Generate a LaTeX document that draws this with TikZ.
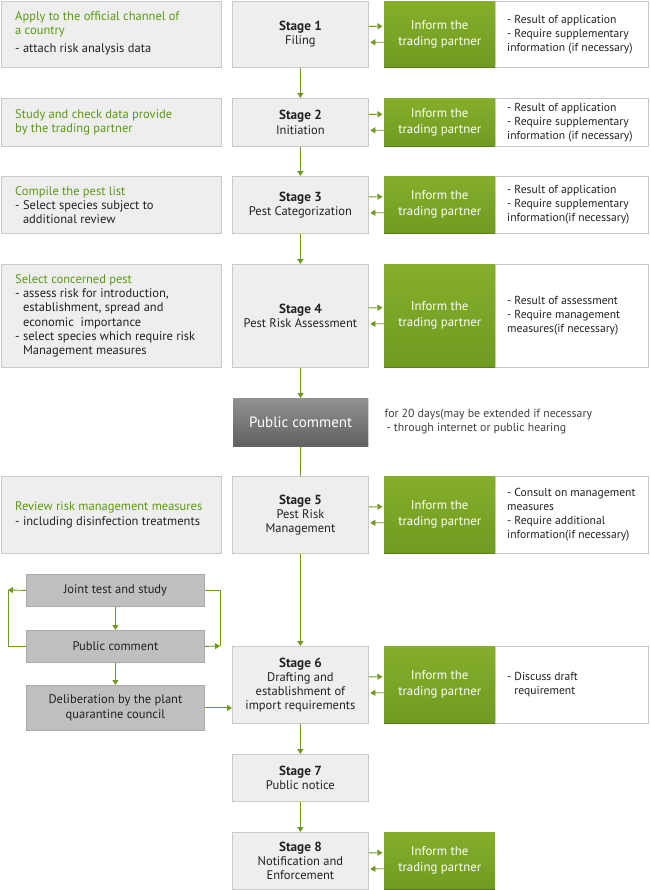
\documentclass[tikz,border=0pt]{standalone}
\usepackage{fontspec}
\setmainfont{PT Sans}
\usetikzlibrary{arrows.meta,shadows}

\definecolor{leaf}{HTML}{6F9A1F}
\definecolor{leaftext}{HTML}{5A9A12}
\definecolor{leaftop}{HTML}{86AE2B}
\definecolor{leafbot}{HTML}{6F9B20}
\definecolor{leafdark}{HTML}{567D16}
\definecolor{boxgray}{HTML}{EEEEEE}
\definecolor{edgegray}{HTML}{C9C9C9}
\definecolor{loopgray}{HTML}{BFBFBF}
\definecolor{loopedge}{HTML}{AAAAAA}
\definecolor{inktext}{HTML}{222222}

\newcommand{\greentxt}[1]{\textcolor{leaftext}{#1}}
\newcommand{\stagehead}[1]{{\fontsize{13.2}{14}\selectfont\textbf{#1}}}

\tikzset{
  every node/.style={font=\fontsize{12.5}{14.2}\selectfont, text=inktext},
  panel/.style={draw=edgegray, fill=boxgray, anchor=north west, inner sep=0pt, line width=0.8pt},
  stage/.style={panel, minimum width=136pt, align=center},
  result/.style={panel, fill=white, minimum width=153pt},
  resulttxt/.style={note, font=\fontsize{11.6}{14}\selectfont},
  inform/.style={anchor=north west, inner sep=0pt, minimum width=111pt,
    top color=leaftop, bottom color=leafbot, align=center,
    font=\fontsize{12.8}{16}\selectfont, text=white},
  note/.style={anchor=west, align=left, inner sep=0pt},
  loopbox/.style={anchor=north west, draw=loopedge, fill=loopgray, line width=0.8pt,
    minimum width=178pt, align=center, inner sep=0pt},
  flow/.style={draw=leaf, line width=0.9pt, -{Triangle[length=5pt,width=6pt]}},
  link/.style={draw=leaf, line width=0.9pt}
}

\begin{document}
\begin{tikzpicture}[x=1pt,y=-1pt]
\useasboundingbox (0,0) rectangle (650,890);

% row 1
\node[panel, minimum width=220pt, minimum height=66pt] (task1) at (1,1) {};
\node[note] (task1txt) at ([xshift=14pt,yshift=1pt]task1.west)
  {\greentxt{Apply to the official channel of}\\\greentxt{a country}\\[4pt]- attach risk analysis data};
\node[stage, minimum height=66pt] (s1) at (232,1) {\stagehead{Stage 1}\\Filing};
\node[inform, minimum height=66pt] (g1) at (384,1) {Inform the\\trading partner};
\node[result, minimum height=66pt] (w1) at (495,1) {};
\node[resulttxt] (w1txt) at ([xshift=12pt]w1.west)
  {- Result of application\\- Require supplementary\\information (if necessary)};

% row 2
\node[panel, minimum width=220pt, minimum height=48pt] (task2) at (1,98) {};
\node[note] (task2txt) at ([xshift=14pt]task2.west)
  {\greentxt{Study and check data provide}\\\greentxt{by the trading partner}};
\node[stage, minimum height=48pt] (s2) at (232,98) {\stagehead{Stage 2}\\Initiation};
\node[inform, minimum height=48pt] (g2) at (384,98) {Inform the\\trading partner};
\node[result, minimum height=48pt] (w2) at (495,98) {};
\node[resulttxt] (w2txt) at ([xshift=12pt]w2.west)
  {- Result of application\\- Require supplementary\\information (if necessary)};

% row 3
\node[panel, minimum width=220pt, minimum height=57pt] (task3) at (1,176) {};
\node[note] (task3txt) at ([xshift=14pt]task3.west)
  {\greentxt{Compile the pest list}\\- Select species subject to\\\phantom{- }additional review};
\node[stage, minimum height=57pt] (s3) at (232,176) {\stagehead{Stage 3}\\Pest Categorization};
\node[inform, minimum height=57pt] (g3) at (384,176) {Inform the\\trading partner};
\node[result, minimum height=57pt] (w3) at (495,176) {};
\node[resulttxt] (w3txt) at ([xshift=12pt]w3.west)
  {- Result of application\\- Require supplementary\\information(if necessary)};

% row 4
\node[panel, minimum width=220pt, minimum height=103pt] (task4) at (1,264) {};
\node[note] (task4txt) at ([xshift=14pt]task4.west)
  {\greentxt{Select concerned pest}\\- assess risk for introduction,\\\phantom{- }establishment, spread and\\\phantom{- }economic\ \ importance\\- select species which require risk\\\phantom{- }Management measures};
\node[stage, minimum height=103pt] (s4) at (232,264) {\stagehead{Stage 4}\\Pest Risk Assessment};
\node[inform, minimum height=103pt] (g4) at (384,264) {Inform the\\trading partner};
\node[result, minimum height=103pt] (w4) at (495,264) {};
\node[resulttxt] (w4txt) at ([xshift=12pt]w4.west)
  {- Result of assessment\\- Require management\\measures(if necessary)};

% public comment
\node[anchor=north west, inner sep=0pt, minimum width=135pt, minimum height=48pt,
  top color=black!43, bottom color=black!62, text=white,
  font=\fontsize{15}{16}\selectfont,
  drop shadow={opacity=0.25, shadow xshift=1pt, shadow yshift=-1pt}] (pc) at (233,398) {Public comment};
\node[note, text=black!75, font=\fontsize{11.8}{14}\selectfont] (pctxt) at ([xshift=16pt,yshift=1pt]pc.east)
  {for 20 days(may be extended if necessary\\\hspace*{2pt}- through internet or public hearing};

% row 5
\node[panel, minimum width=220pt, minimum height=77pt] (task5) at (1,476) {};
\node[note] (task5txt) at ([xshift=14pt]task5.west)
  {\greentxt{Review risk management measures}\\- including disinfection treatments};
\node[stage, minimum height=77pt] (s5) at (232,476) {\stagehead{Stage 5}\\Pest Risk\\Management};
\node[inform, minimum height=77pt] (g5) at (384,476) {Inform the\\trading partner};
\node[result, minimum height=77pt] (w5) at (495,476) {};
\node[resulttxt] (w5txt) at ([xshift=12pt]w5.west)
  {- Consult on management\\measures\\- Require additional\\information(if necessary)};

% consultation loop
\node[loopbox, minimum height=32pt] (joint) at (26,574) {Joint test and study};
\node[loopbox, minimum height=32pt] (pub) at (26,630) {Public comment};
\node[loopbox, minimum height=45pt] (delib) at (26,685) {Deliberation by the plant\\quarantine council};
\coordinate (cornerL) at (8,590);
\coordinate (cornerR) at (220,646);
\draw[flow] (joint) -- (pub);
\draw[flow] (pub) -- (delib);
\draw[flow] (joint.west) -- (cornerL);
\draw[link] (cornerL) |- (pub.west);
\draw[link] (joint.east) -| (cornerR);
\draw[flow] (pub.east) -- (cornerR);

% row 6
\node[stage, minimum height=77pt] (s6) at (232,646) {\stagehead{Stage 6}\\Drafting and\\establishment of\\import requirements};
\node[inform, minimum height=77pt] (g6) at (384,646) {Inform the\\trading partner};
\node[result, minimum height=77pt] (w6) at (495,646) {};
\node[resulttxt] (w6txt) at ([xshift=12pt]w6.west)
  {- Discuss draft\\\phantom{- }requirement};
\draw[flow] (delib.east) -- (delib.east -| s6.west);

% rows 7 and 8
\node[stage, minimum height=47pt] (s7) at (232,754) {\stagehead{Stage 7}\\Public notice};
\node[stage, minimum height=57pt] (s8) at (232,832) {\stagehead{Stage 8}\\Notification and\\Enforcement};
\node[inform, minimum height=57pt] (g8) at (384,832) {Inform the\\trading partner};

% stage to stage
\foreach \a/\b in {s1/s2,s2/s3,s3/s4,s4/pc,s5/s6,s6/s7,s7/s8}
  \draw[flow] (\a) -- (\b);
\draw[link] (pc) -- (s5);

% stage to partner and back
\foreach \r in {1,2,3,4,5,6,8}
{
  \draw[leafdark, line width=1.2pt] (g\r.south west) -- (g\r.south east);
  \draw[flow, shorten >=1.5pt] ([yshift=8pt]s\r.east) -- ([yshift=8pt]g\r.west);
  \draw[flow, shorten >=1.5pt] ([yshift=-8pt]g\r.west) -- ([yshift=-8pt]s\r.east);
}
\end{tikzpicture}
\end{document}
